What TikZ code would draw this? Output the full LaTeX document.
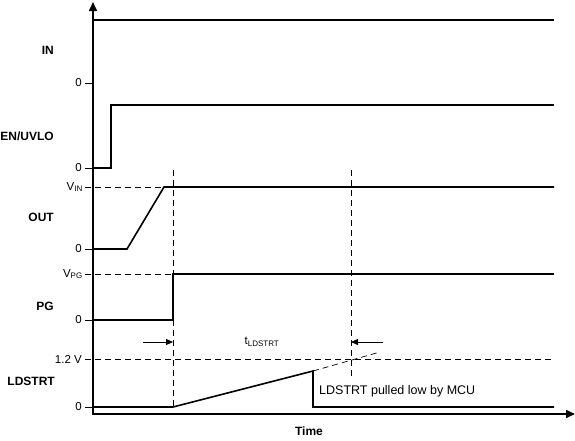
\documentclass[tikz,border=0pt]{standalone}
\usepackage{fontspec}
\setmainfont{Liberation Sans}
\usetikzlibrary{arrows.meta}

\begin{document}
\begin{tikzpicture}[x=1pt,y=1pt,
  sig/.style={black,line width=1.6pt},
  axis/.style={black,line width=1.6pt},
  guide/.style={black,line width=0.8pt,dash pattern=on 6pt off 4pt},
  tick/.style={black,line width=1pt},
  siglabel/.style={anchor=east,inner sep=0pt,font=\fontsize{12}{14}\selectfont\bfseries},
  ticklabel/.style={anchor=east,inner sep=0pt,font=\fontsize{11.5}{13}\selectfont}]
\useasboundingbox (0,0) rectangle (575,-440);
% axes
\draw [axis,-{Triangle[length=9pt,width=8pt]}] (93,-414) -- (93,-2);
\draw [axis,-{Triangle[length=9pt,width=8pt]}] (92.2,-414) -- (575,-414);
\node (time) [font=\fontsize{12}{14}\selectfont\bfseries] at (309,-431) {Time};
% signal names
\node (in) [siglabel] at (54,-50) {IN};
\node (en) [siglabel] at (54,-136) {EN/UVLO};
\node (out) [siglabel] at (54,-217) {OUT};
\node (pg) [siglabel] at (54,-306) {PG};
\node (ldstrt) [siglabel] at (55,-381) {LDSTRT};
% levels
\foreach \y in {83,168,249,320,407} {
  \draw [tick] (85,-\y) -- (93,-\y);
  \node [ticklabel] at (82,-\y) {0};
}
\node (vin) [ticklabel] at (83,-187) {V\textsubscript{\fontsize{8}{9}\selectfont IN}};
\node (vpg) [ticklabel] at (83,-274) {V\textsubscript{\fontsize{8}{9}\selectfont PG}};
\node (vref) [ticklabel] at (82,-359) {1.2 V};
\draw [guide] (85,-187) -- (164,-187);
\draw [guide] (85,-274) -- (173,-274);
\draw [guide] (85,-359) -- (553,-359);
\draw [guide] (173,-170) -- (173,-407);
\draw [guide] (351,-170) -- (351,-376);
% waveforms
\draw [sig] (93,-20) -- (554,-20);
\draw [sig] (93,-168) -- (111,-168) -- (111,-105) -- (554,-105);
\draw [sig] (93,-249) -- (127,-249) -- (164,-187) -- (554,-187);
\draw [sig] (93,-320) -- (173,-320) -- (173,-274) -- (554,-274);
\draw [sig] (93,-407) -- (173,-407) -- (313,-371) -- (313,-407) -- (554,-407);
\draw [guide,line width=0.7pt] (313,-371) -- (380,-352);
% start-up time
\draw [black,line width=0.8pt,-{Triangle[length=7pt,width=6pt]}] (143,-342) -- (173,-342);
\draw [black,line width=0.8pt,-{Triangle[length=7pt,width=6pt]}] (383,-342) -- (351,-342);
\node (tld) [font=\fontsize{11.5}{13}\selectfont] at (262,-342) {t\textsubscript{\fontsize{8}{9}\selectfont LDSTRT}};
\node (note) [anchor=west,inner sep=0pt,font=\fontsize{12.5}{14}\selectfont] at (319,-391) {LDSTRT pulled low by MCU};
\end{tikzpicture}
\end{document}
